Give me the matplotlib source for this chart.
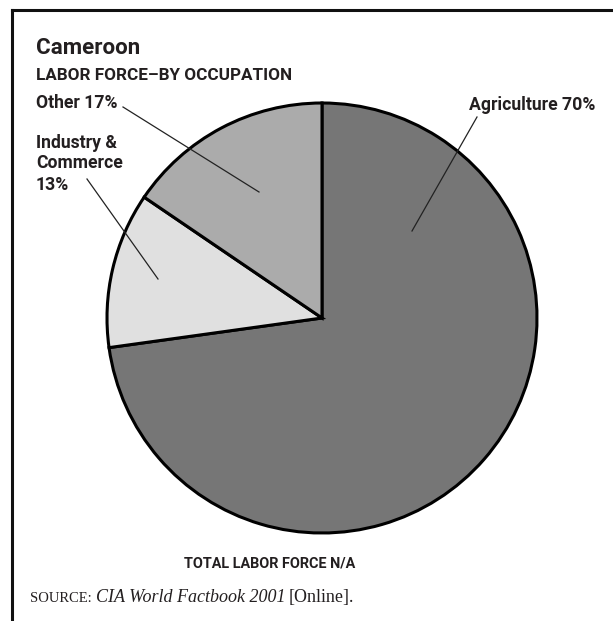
import matplotlib.pyplot as plt
from matplotlib.lines import Line2D

# data
categories = ["Agriculture", "Industry & Commerce", "Other"]
shares = [72.8, 11.7, 15.5]  # wedge sizes as drawn in the picture
label_agri = "Agriculture 70%"
label_ind = ["Industry &", "Commerce", "13%"]
label_other = "Other 17%"
colors = ["#767676", "#e0e0e0", "#ababab"]

W, H = 613, 621
SANS = ["Roboto", "DejaVu Sans"]
SERIF = ["Liberation Serif", "DejaVu Serif"]
INK = "#231f20"


def py(y):
    """pixel row (from top) -> data y"""
    return H - y


def fit(txt, width):
    """scale the font so the text is about `width` pixels wide"""
    r = fig.canvas.get_renderer()
    w = txt.get_window_extent(r).width
    txt.set_fontsize(txt.get_fontsize() * width / w)
    return txt


fig = plt.figure(figsize=(W / 100, H / 100), dpi=100)
ax = fig.add_axes([0, 0, 1, 1])

ax.pie(
    shares,
    startangle=90,
    counterclock=False,
    colors=colors,
    center=(322, py(318)),
    radius=215,
    wedgeprops=dict(edgecolor="black", linewidth=2.2),
)
ax.set_xlim(0, W)
ax.set_ylim(0, H)
ax.set_aspect("auto")
ax.axis("off")

# frame: top and left rules only
fig.add_artist(Line2D([12 / W, 1], [py(10) / H, py(10) / H], color="#111111", lw=2.2))
fig.add_artist(Line2D([12 / W, 12 / W], [0, py(10) / H], color="#111111", lw=2.2))

kw = dict(family=SANS, weight="bold", color=INK, fontsize=12)

# titles
fit(ax.text(36, py(54), "Cameroon", **kw), 104)
fit(ax.text(36, py(80), "LABOR FORCE\u2013BY OCCUPATION", **kw), 256)

# slice labels with leader lines
lab = ax.text(595, py(110), label_agri, ha="right", **kw)
fit(lab, 126)
kw["fontsize"] = lab.get_fontsize()
ax.plot([477, 412], [py(117), py(231)], color="#222222", lw=0.9)

for line, y in zip(label_ind, [148, 168, 190]):
    ax.text(36, py(y), line, **kw)
ax.plot([87, 158], [py(179), py(279)], color="#222222", lw=0.9)

ax.text(36, py(108), label_other, **kw)
ax.plot([123, 259], [py(107), py(192)], color="#222222", lw=0.9)

fit(ax.text(270, py(567), "TOTAL LABOR FORCE N/A", ha="center", **kw), 172)

# source line
src = ax.text(30, py(602), "SOURCE:", family=SERIF, fontsize=10.5, color=INK)
fig.canvas.draw()
x = src.get_window_extent().x1 + 4
src2 = ax.annotate("CIA World Factbook 2001", xy=(x, py(602)), xycoords="figure pixels",
                   family=SERIF, style="italic", fontsize=13, color=INK)
fig.canvas.draw()
x = src2.get_window_extent().x1 + 4
ax.annotate("[Online].", xy=(x, py(602)), xycoords="figure pixels",
            family=SERIF, fontsize=13, color=INK)

fig.savefig("out.png", dpi=100)
